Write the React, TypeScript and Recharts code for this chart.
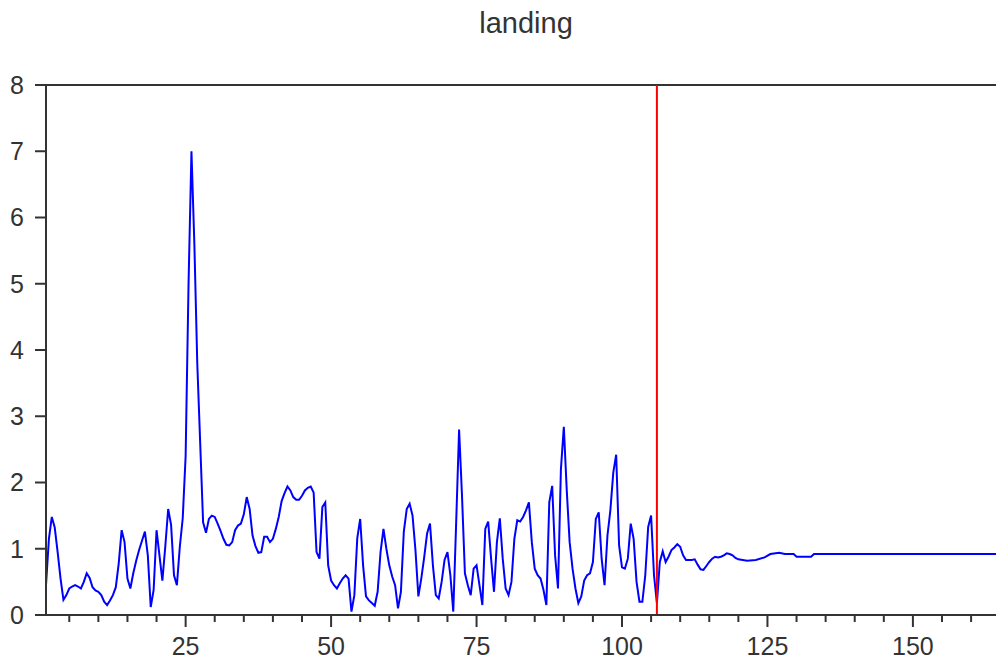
import { LineChart, Line, XAxis, YAxis, ReferenceLine } from "recharts";

const FONT = '"Liberation Sans", Arial, sans-serif';
const INK = "#333";

// landing signal, one sample every half unit of time
const STEP = 0.5;
const approach = [
  0.45, 1.15, 1.48, 1.32, 0.95, 0.55, 0.23, 0.3, 0.4, 0.43,
  0.45, 0.43, 0.4, 0.5, 0.63, 0.56, 0.42, 0.37, 0.35, 0.3,
  0.2, 0.15, 0.22, 0.3, 0.42, 0.78, 1.28, 1.1, 0.55, 0.4,
  0.63, 0.82, 0.98, 1.12, 1.26, 0.9, 0.12, 0.38, 1.28, 0.9,
  0.52, 1.03, 1.6, 1.36, 0.6, 0.45, 1.03, 1.46, 2.4, 5.0,
  7.0, 5.6, 3.8, 2.6, 1.4, 1.24, 1.45, 1.5, 1.48, 1.38,
  1.27, 1.15, 1.06, 1.05, 1.1, 1.28, 1.35, 1.38, 1.52, 1.78,
  1.6, 1.2, 1.04, 0.94, 0.95, 1.18, 1.18, 1.1, 1.15, 1.3,
];
const touchdown = [
  1.48, 1.72, 1.84, 1.94, 1.88, 1.78, 1.74, 1.74, 1.8, 1.88,
  1.92, 1.94, 1.85, 0.95, 0.85, 1.63, 1.7, 0.75, 0.52, 0.45,
  0.4, 0.48, 0.55, 0.6, 0.55, 0.05, 0.3, 1.16, 1.45, 0.75,
  0.28, 0.22, 0.18, 0.14, 0.35, 0.95, 1.3, 1.0, 0.75, 0.58,
  0.45, 0.1, 0.35, 1.26, 1.6, 1.68, 1.5, 0.98, 0.28, 0.55,
  0.87, 1.23, 1.38, 0.75, 0.3, 0.25, 0.5, 0.83, 0.95, 0.6,
  0.05, 1.4, 2.8, 1.8, 0.63, 0.45, 0.3, 0.7, 0.75, 0.45,
  0.15, 1.3, 1.41, 0.85, 0.35, 1.1, 1.46, 0.85, 0.4, 0.3,
];
const rollout = [
  0.5, 1.15, 1.43, 1.41, 1.48, 1.58, 1.7, 1.1, 0.7, 0.6,
  0.55, 0.38, 0.15, 1.7, 1.95, 0.9, 0.4, 2.2, 2.84, 1.89,
  1.1, 0.7, 0.4, 0.18, 0.28, 0.52, 0.6, 0.63, 0.8, 1.45,
  1.55, 0.85, 0.45, 1.2, 1.58, 2.15, 2.42, 1.05, 0.72, 0.7,
  0.85, 1.38, 1.15, 0.5, 0.2, 0.2, 0.6, 1.33, 1.5, 0.6,
  0.18, 0.8, 0.96, 0.8, 0.88, 0.98, 1.02, 1.07, 1.03, 0.9,
  0.83, 0.83, 0.83, 0.84, 0.76, 0.69, 0.68, 0.74, 0.8, 0.85,
  0.88, 0.87, 0.88, 0.9, 0.93, 0.92, 0.9, 0.86, 0.84,
];
// settled tail, sparse samples
const settleTimes = [121.5, 123, 124.5, 125.5, 127, 128, 129.5, 130, 132.5, 133, 166];
const settleValues = [0.82, 0.83, 0.87, 0.92, 0.94, 0.92, 0.92, 0.88, 0.88, 0.92, 0.92];

const eventTime = 106;
const yTicks = [0, 1, 2, 3, 4, 5, 6, 7, 8];
const xTicks = [
  5, 10, 15, 20, 25, 30, 35, 40, 45, 50, 55, 60, 65, 70, 75, 80, 85,
  90, 95, 100, 105, 110, 115, 120, 125, 130, 135, 140, 145, 150, 155, 160, 165,
];
const MAJOR = 25;

const sampled = (start: number, values: number[]) =>
  values.map((v, i) => ({ t: start + i * STEP, value: v }));

const data = [
  ...sampled(1, approach),
  ...sampled(41, touchdown),
  ...sampled(81, rollout),
  ...settleTimes.map((t, i) => ({ t, value: settleValues[i] })),
];

// long ticks with labels every 25, short ones in between
const TimeTick = ({ x, y, payload }: any) => {
  const major = payload.value % MAJOR === 0;
  return (
    <g>
      <line x1={x} x2={x} y1={y} y2={y + (major ? 12 : 7)} stroke={INK} strokeWidth={2} />
      {major && (
        <text x={x} y={y + 40} textAnchor="middle" fill={INK} fontSize={25} fontFamily={FONT}>
          {payload.value}
        </text>
      )}
    </g>
  );
};

export default function App() {
  return (
    <div
      style={{
        position: "fixed",
        left: 0,
        top: 0,
        width: 996,
        height: 661,
        overflow: "hidden",
        background: "#fff",
      }}
    >
      <div
        style={{
          position: "absolute",
          left: 376,
          top: 7,
          width: 300,
          textAlign: "center",
          fontFamily: FONT,
          fontSize: 29,
          lineHeight: "33px",
          color: INK,
        }}
      >
        landing
      </div>
      <LineChart width={1010} height={661} data={data} margin={{ top: 85, right: 4, bottom: 0, left: 0 }}>
        <XAxis
          type="number"
          dataKey="t"
          domain={[1, 166]}
          allowDataOverflow
          ticks={xTicks}
          interval={0}
          height={46}
          tickSize={0}
          tickMargin={0}
          tick={<TimeTick />}
          axisLine={{ stroke: INK, strokeWidth: 2 }}
        />
        <YAxis
          type="number"
          domain={[0, 8]}
          ticks={yTicks}
          interval={0}
          width={46}
          tickSize={11}
          tickMargin={11}
          tickLine={{ stroke: INK, strokeWidth: 2 }}
          axisLine={{ stroke: INK, strokeWidth: 2 }}
          tick={{ fill: INK, fontSize: 25, fontFamily: FONT }}
        />
        <ReferenceLine y={8} stroke={INK} strokeWidth={2} />
        <Line
          type="linear"
          dataKey="value"
          stroke="#0000ff"
          strokeWidth={2}
          dot={false}
          isAnimationActive={false}
        />
        <ReferenceLine x={eventTime} stroke="#ff0000" strokeWidth={2} />
      </LineChart>
    </div>
  );
}
